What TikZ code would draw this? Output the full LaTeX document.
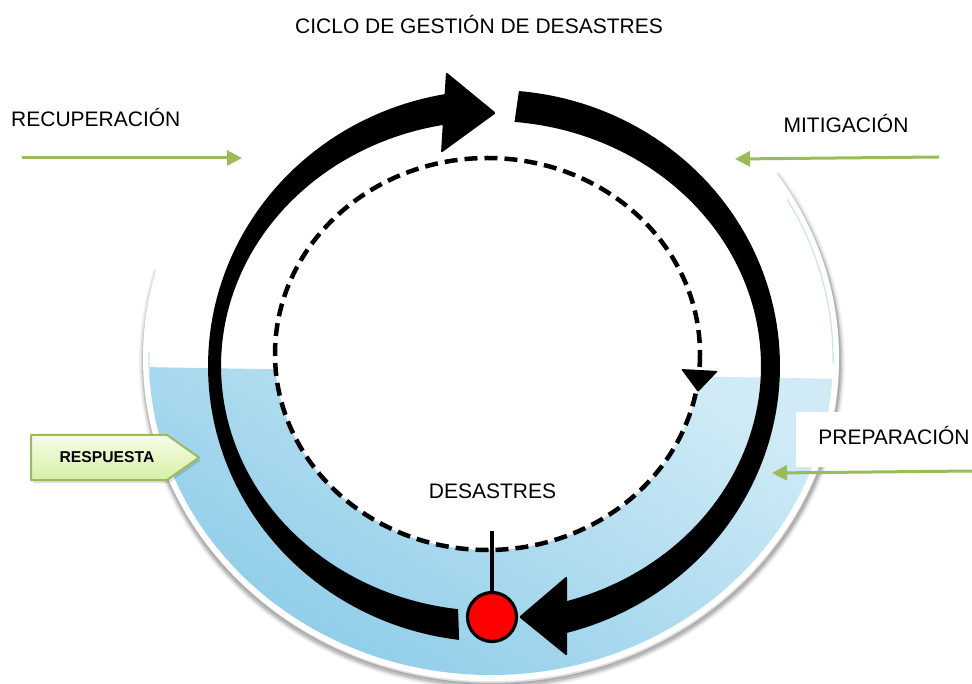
\documentclass[tikz,border=0pt]{standalone}
\usepackage{fontspec}
\setmainfont{Liberation Sans}
\usetikzlibrary{arrows.meta}
\definecolor{grn}{RGB}{155,187,89}
\definecolor{wdark}{RGB}{138,202,232}
\definecolor{wlight}{RGB}{208,235,246}
\definecolor{glassedge}{RGB}{200,228,242}
\definecolor{boxtop}{RGB}{246,253,232}
\definecolor{boxbot}{RGB}{214,240,166}
\begin{document}
\begin{tikzpicture}[x=1pt,y=-1pt,
  lbl/.style={font=\fontsize{21}{24}\selectfont, inner sep=0pt, anchor=base},
  garrow/.style={grn, line width=3pt, -{Triangle[length=15pt,width=15pt]}},
  band/.style={fill=black},
  head/.style={fill=black, rounded corners=1.5pt},
  shadowline/.style={black, line cap=round},
]
\useasboundingbox (0,0) rectangle (972,684);

% ---- bowl shadow and rim
\draw[shadowline, opacity=0.10, line width=1.5pt] plot[domain=304:572, samples=150] ({492+348*cos(\x)},{361+323*sin(\x)});
\foreach \w/\o in {10/0.05,7/0.08,4/0.14}{
  \draw[shadowline, opacity=\o, line width=\w pt] plot[domain=325:556, samples=150] ({492+348*cos(\x)},{362+323*sin(\x)});
}
\fill[white] (491,358) ellipse [x radius=348, y radius=323];

% ---- water
\begin{scope}
  \clip (491,358) ellipse [x radius=342, y radius=317];
  \clip (140,367) -- (845,379) -- (845,690) -- (140,690) -- cycle;
  \shade[top color=wlight, bottom color=wdark, shading angle=-30] (140,367) rectangle (845,690);
\end{scope}
\draw[glassedge, line width=1.2pt] plot[domain=330:361, samples=40] ({491+342*cos(\x)},{358+317*sin(\x)});
\draw[glassedge, line width=1.2pt] plot[domain=176:181, samples=10] ({491+342*cos(\x)},{358+317*sin(\x)});

% ---- inner dashed cycle
\draw[black, fill=white, line width=4.5pt, dash pattern=on 13pt off 7pt] (487.5,354) ellipse [x radius=212.5, y radius=196];
\fill[head, rounded corners=1pt] (681,369) -- (718,371) -- (698,392) -- cycle;

% ---- thick black cycle arrows
\fill[band] plot[domain=97:263, samples=90] ({494+286*cos(\x)},{366+276*sin(\x)})
  -- plot[domain=263:97, samples=90] ({491+270*cos(\x)},{366+245*sin(\x)}) -- cycle;
\fill[head] (446,72) -- (496,113) -- (441,153) -- cycle;

\fill[band] plot[domain=275:437, samples=90] ({494+286*cos(\x)},{366+276*sin(\x)})
  -- plot[domain=437:275, samples=90] ({491+270*cos(\x)},{366+245*sin(\x)}) -- cycle;
\fill[head] (567,576) -- (519,617) -- (567,656) -- cycle;

% ---- disaster marker
\node[circle, draw=black, line width=3.2pt, fill=red, minimum size=49pt, inner sep=0pt] (dis) at (492,617) {};
\coordinate (distop) at (492,531);
\draw[line width=3.2pt] (distop) -- (dis.north);
\node[lbl] (desastres) at (492.5,498) {DESASTRES};

% ---- title
\node[lbl] (title) at (479,34) {CICLO DE GESTIÓN DE DESASTRES};

% ---- phase labels and green arrows
\node[lbl, anchor=base west] (recup) at (11,127) {RECUPERACIÓN};
\coordinate (r1) at (22,158);
\coordinate (r2) at (242,158);
\draw[garrow] (r1) -- (r2);

\node[lbl] (mitig) at (846,133) {MITIGACIÓN};
\coordinate (m1) at (939,157);
\coordinate (m2) at (735,159);
\draw[garrow] (m1) -- (m2);

\node[fill=white, minimum width=176pt, minimum height=55pt, inner sep=0pt] (prepbox) at (884,439.5) {};
\node[lbl] (prep) at (894,444) {PREPARACIÓN};
\coordinate (p1) at (972,471);
\coordinate (p2) at (772,473);
\draw[garrow] (p1) -- (p2);

% ---- RESPUESTA tag
\fill[black, opacity=0.12] (33,438) -- (169,438) -- (201,460.5) -- (169,483) -- (33,483) -- cycle;
\shadedraw[top color=boxtop, bottom color=boxbot, draw=grn, line width=2pt, line join=round]
  (31,435) -- (167,435) -- (199,457.5) -- (167,480) -- (31,480) -- cycle;
\node[inner sep=0pt, anchor=base, font=\fontsize{15.7}{18}\selectfont\bfseries] (resp) at (107,462) {RESPUESTA};
\end{tikzpicture}
\end{document}
